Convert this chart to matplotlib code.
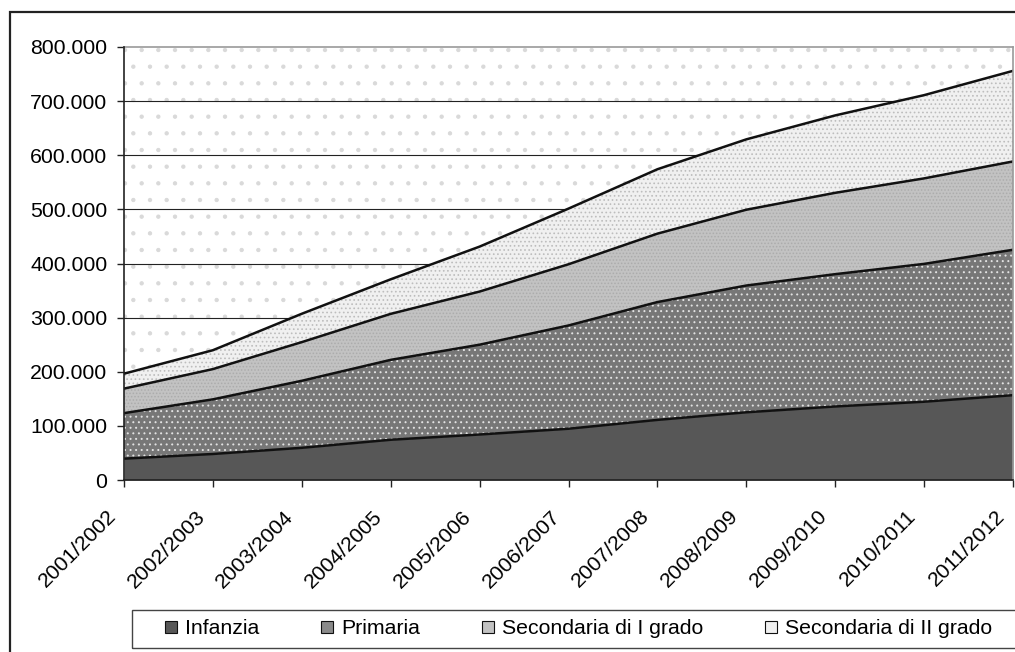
import matplotlib
matplotlib.use('Agg')
from matplotlib import pyplot as plt
from matplotlib.patches import Rectangle, Patch
from matplotlib.transforms import ScaledTranslation
import numpy as np

plt.rcParams['font.family'] = ['Liberation Sans', 'DejaVu Sans']
plt.rcParams['hatch.linewidth'] = 0.7

# anni scolastici e alunni per ordine di scuola
anni = ['2001/2002', '2002/2003', '2003/2004', '2004/2005', '2005/2006', '2006/2007',
        '2007/2008', '2008/2009', '2009/2010', '2010/2011', '2011/2012']
infanzia = [39445, 48072, 59500, 74348, 84058, 94712, 111044, 125092, 135840, 144628, 156701]
primaria = [84122, 100939, 123814, 147633, 165951, 190803, 217716, 234206, 244457, 254653, 268671]
sec_1 = [45253, 55907, 71447, 84989, 98150, 113076, 126396, 140050, 150279, 157980, 163178]
sec_2 = [27594, 34890, 52380, 63833, 83052, 102829, 118977, 130012, 143016, 153785, 167389]

nomi = ['Infanzia', 'Primaria', 'Secondaria di I grado', 'Secondaria di II grado']
serie = [infanzia, primaria, sec_1, sec_2]

# fill colour, hatch, hatch colour
stili = [('#575757', None, '#575757'),
         ('#777777', '...', '#e2e2e2'),
         ('#c2c2c2', '.....', '#acacac'),
         ('#f0f0f0', '....', '#bdbdbd')]
legenda_col = ['#575757', '#8a8a8a', '#c2c2c2', '#f0f0f0']

fig = plt.figure(figsize=(10.15, 6.52), dpi=100)
ax = fig.add_axes([124 / 1015, 1 - 480 / 652, 889 / 1015, 433 / 652])

x = np.arange(len(anni))

# dotted background of the plot area
ax.add_patch(Rectangle((0, 0), 1, 1, transform=ax.transAxes, facecolor='white',
                       hatch='.', edgecolor='#d9d9d9', lw=0, zorder=0))
for v in range(100000, 800000, 100000):
    ax.axhline(v, color='#222222', lw=0.8, zorder=0.5)

base = np.zeros(len(anni))
for vals, (fc, h, hc) in zip(serie, stili):
    top = base + np.array(vals)
    ax.fill_between(x, base, top, facecolor=fc, hatch=h, edgecolor=hc, lw=0, zorder=1)
    ax.plot(x, top, color='#111111', lw=1.8, zorder=2)
    base = top

ax.set_xlim(0, len(anni) - 1)
ax.set_ylim(0, 800000)
yt = np.arange(0, 800001, 100000)
ax.set_yticks(yt)
ax.set_yticklabels(['0' if v == 0 else f'{v:,}'.replace(',', '.') for v in yt], fontsize=15.3)
ax.set_xticks(x)
ax.set_xticklabels(anni, rotation=45, ha='right', va='center', rotation_mode='anchor',
                   fontsize=15.3)
ax.tick_params(axis='both', direction='out', length=5, width=1, color='#222222')
ax.tick_params(axis='y', pad=7)
ax.tick_params(axis='x', pad=19)
shift = ScaledTranslation(-11 / 100, 0, fig.dpi_scale_trans)
for lab in ax.get_xticklabels():
    lab.set_transform(lab.get_transform() + shift)

for s in ['left', 'bottom']:
    ax.spines[s].set_color('#222222')
    ax.spines[s].set_linewidth(1.2)
for s in ['top', 'right']:
    ax.spines[s].set_color('#9a9a9a')
    ax.spines[s].set_linewidth(1.2)
ax.spines['left'].set_zorder(3)
ax.spines['bottom'].set_zorder(3)

# outer chart border and legend frame
fig.patches.append(Rectangle((10 / 1015, -0.05), 1.1, 1 - 12 / 652 + 0.05,
                             transform=fig.transFigure, fill=False, lw=1.6,
                             edgecolor='#222222'))
fig.patches.append(Rectangle((132 / 1015, 1 - 648 / 652), 1.0, 38 / 652,
                             transform=fig.transFigure, fill=False, lw=1.0,
                             edgecolor='#444444'))

handles = [Patch(facecolor=c, edgecolor='#111111', lw=0.8) for c in legenda_col]
fig.legend(handles, nomi, loc='center left', bbox_to_anchor=(165 / 1015, 1 - 629 / 652),
           ncol=4, frameon=False, fontsize=15.3, borderpad=0, borderaxespad=0,
           handlelength=0.56, handleheight=0.56, handletextpad=0.38, columnspacing=2.92)

fig.savefig('out.png', dpi=100)
